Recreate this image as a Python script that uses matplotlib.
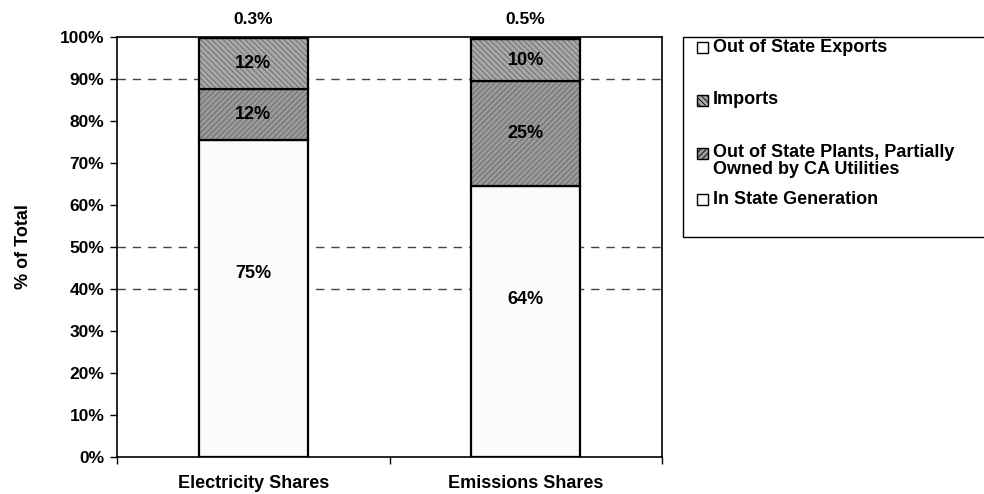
import numpy as np
import matplotlib
matplotlib.use('Agg')
import matplotlib.pyplot as plt
from matplotlib.patches import Rectangle

plt.rcParams['font.family'] = ['Liberation Sans', 'DejaVu Sans']
plt.rcParams['font.weight'] = 'bold'
plt.rcParams['hatch.linewidth'] = 0.6

categories = ['Electricity Shares', 'Emissions Shares']
series = ['In State Generation',
          'Out of State Plants, Partially\nOwned by CA Utilities',
          'Imports',
          'Out of State Exports']
in_state = [75.4, 64.6]
oos_plants = [12.1, 24.9]
imports = [12.2, 10.0]
exports = [0.3, 0.5]
labels_in_state = ['75%', '64%']
labels_plants = ['12%', '25%']
labels_imports = ['12%', '10%']
labels_exports = ['0.3%', '0.5%']
grid_levels = [40, 50, 90]

styles = [
    dict(facecolor='#fbfbfb', hatch=None),
    dict(facecolor='#9a9a9a', hatch='//////'),
    dict(facecolor='#a8a8a8', hatch='\\\\\\\\\\\\'),
    dict(facecolor='white', hatch=None),
]

fig = plt.figure(figsize=(9.84, 4.94), dpi=100)
ax = fig.add_axes([117/984, 37/494, (662-117)/984, 420/494])

x = np.arange(len(categories))
for lvl in grid_levels:
    ax.axhline(lvl, color='#444444', linestyle=(0, (6, 5)), linewidth=1.0, zorder=0)

bottom = np.zeros(len(categories))
data = [in_state, oos_plants, imports, exports]
for vals, st in zip(data, styles):
    b = ax.bar(x, vals, width=0.4, bottom=bottom, color=st['facecolor'],
               hatch=st['hatch'], edgecolor='black', linewidth=1.6, zorder=2)
    for p in b:
        p._hatch_color = (0.4, 0.4, 0.4, 1.0)
    bottom = bottom + np.array(vals)

# segment labels
for i in range(len(categories)):
    ax.text(x[i], in_state[i] * 0.58, labels_in_state[i], ha='center', va='center',
            fontsize=13, fontweight='bold', zorder=3)
    ax.text(x[i], in_state[i] + oos_plants[i] / 2, labels_plants[i], ha='center',
            va='center', fontsize=13, fontweight='bold', zorder=3)
    ax.text(x[i], in_state[i] + oos_plants[i] + imports[i] / 2, labels_imports[i],
            ha='center', va='center', fontsize=13, fontweight='bold', zorder=3)
    ax.annotate(labels_exports[i], (x[i], 100), xytext=(0, 7), textcoords='offset points',
                ha='center', va='bottom', fontsize=12.5, fontweight='bold',
                annotation_clip=False)

ax.set_xlim(-0.5, 1.5)
ax.set_ylim(0, 100)
ax.set_yticks(np.arange(0, 101, 10))
ax.set_yticklabels([f'{v}%' for v in range(0, 101, 10)], fontsize=12.5, fontweight='bold')
ax.set_xticks(x)
ax.set_xticklabels(categories, fontsize=13, fontweight='bold')
ax.set_xticks([-0.5, 0.5, 1.5], minor=True)
ax.tick_params(axis='x', which='major', length=0, pad=13)
ax.tick_params(axis='x', which='minor', length=5, direction='out', width=1)
ax.tick_params(axis='y', length=5, direction='out', width=1, pad=4)
for s in ax.spines.values():
    s.set_linewidth(1.2)
ax.set_ylabel('% of Total', fontsize=13, fontweight='bold', labelpad=20)

# legend drawn in figure pixels
def fx(px):
    return px / 984

def fy(py):
    return 1 - py / 494

fig.patches.append(Rectangle((fx(683), fy(237)), fx(984 - 683 + 10), 200 / 494,
                             transform=fig.transFigure, facecolor='white',
                             edgecolor='black', linewidth=1.0))
leg_rows = [(series[3], styles[3], 47), (series[2], styles[2], 100),
            (series[1], styles[1], 161), (series[0], styles[0], 199)]
for name, st, yc in leg_rows:
    first_line_y = yc if '\n' not in name else yc - 8
    fig.patches.append(Rectangle((fx(697), fy(first_line_y + 6)), fx(11), 11 / 494,
                                 transform=fig.transFigure, facecolor=st['facecolor'],
                                 hatch=st['hatch'], edgecolor='black', linewidth=1.0))
    fig.text(fx(713), fy(yc), name, ha='left', va='center', fontsize=13,
             fontweight='bold', linespacing=1.0)

fig.savefig('out.png', dpi=100)
